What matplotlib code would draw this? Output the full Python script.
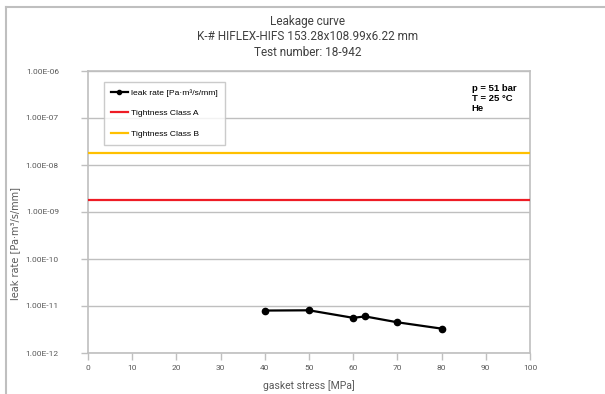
import numpy as np
import matplotlib
matplotlib.use("Agg")
import matplotlib.pyplot as plt
from matplotlib.lines import Line2D

# data
stress = [40, 50, 60, 62.7, 70, 80]
leak = [8.0e-12, 8.1e-12, 5.6e-12, 6.0e-12, 4.5e-12, 3.3e-12]
class_a = 1.8e-9
class_b = 1.8e-8
y_ticks = [1e-12, 1e-11, 1e-10, 1e-9, 1e-8, 1e-7, 1e-6]
y_labels = ["1.00E-12", "1.00E-11", "1.00E-10", "1.00E-09", "1.00E-08", "1.00E-07", "1.00E-06"]
x_ticks = [0, 10, 20, 30, 40, 50, 60, 70, 80, 90, 100]

grey = "#bfbfbf"
txt = "#595959"

fig = plt.figure(figsize=(6.05, 3.94), dpi=100)
ax = fig.add_axes([88/605, 1-353/394, 442/605, 282/394])

# outer chart border (only top and left visible)
fig.add_artist(Line2D([6/605, 1], [1-7/394, 1-7/394], color=grey, lw=1.5, transform=fig.transFigure))
fig.add_artist(Line2D([6/605, 6/605], [0, 1-7/394], color=grey, lw=1.5, transform=fig.transFigure))

ax.plot(stress, leak, color="black", lw=1.6, marker="o", ms=4.5, zorder=5)
ax.axhline(class_a, color="#ee1c25", lw=1.6, zorder=4)
ax.axhline(class_b, color="#ffc000", lw=1.6, zorder=4)

ax.set_yscale("log")
ax.set_xlim(0, 100)
ax.set_ylim(1e-12, 1e-6)
ax.set_yticks(y_ticks)
ax.set_yticklabels(y_labels)
ax.yaxis.set_minor_locator(matplotlib.ticker.NullLocator())
ax.set_xticks(x_ticks)
ax.tick_params(axis="both", direction="out", length=5, color=grey, labelsize=6, labelcolor=txt, width=1)
ax.tick_params(axis="y", pad=16)
for lab in ax.get_xticklabels() + ax.get_yticklabels():
    lab.set_family("Roboto")
ax.grid(axis="y", color=grey, lw=1)
ax.set_axisbelow(True)
for s in ax.spines.values():
    s.set_color(grey)
    s.set_linewidth(1.2)

ax.set_xlabel("gasket stress [MPa]", fontsize=7.5, color=txt, family="Roboto", labelpad=7)
ax.set_ylabel("leak rate [Pa·m³/s/mm]", fontsize=7, color=txt)
ax.yaxis.set_label_coords(-0.154, 0.39)

for i, line in enumerate(["Leakage curve", "K-# HIFLEX-HIFS 153.28x108.99x6.22 mm", "Test number: 18-942"]):
    fig.text(0.508, 1-(22+15*i)/394, line, ha="center", va="center", fontsize=8.5,
             color="#404040", family="Roboto")

handles = [
    Line2D([], [], color="black", lw=1.6, marker="o", ms=3),
    Line2D([], [], color="#ee1c25", lw=1.6),
    Line2D([], [], color="#ffc000", lw=1.6),
]
names = ["leak rate [Pa·m³/s/mm]", "Tightness Class A", "Tightness Class B"]
leg = ax.legend(handles, names, loc="upper left", bbox_to_anchor=(16/442, 1-11/282),
                prop={"family": "Liberation Sans", "size": 6.1}, frameon=True, fancybox=False,
                edgecolor=grey, handlelength=2.0, handletextpad=0.4, labelspacing=1.5,
                borderpad=0.8, borderaxespad=0)
leg.get_frame().set_linewidth(1)
leg.set_zorder(10)

ax.text(0.868, 0.955, "p = 51 bar\nT = 25 °C\nHe", transform=ax.transAxes, ha="left", va="top",
        fontsize=6.8, fontweight="bold", family="Liberation Sans", linespacing=1.2)

fig.savefig("out.png", dpi=100)
